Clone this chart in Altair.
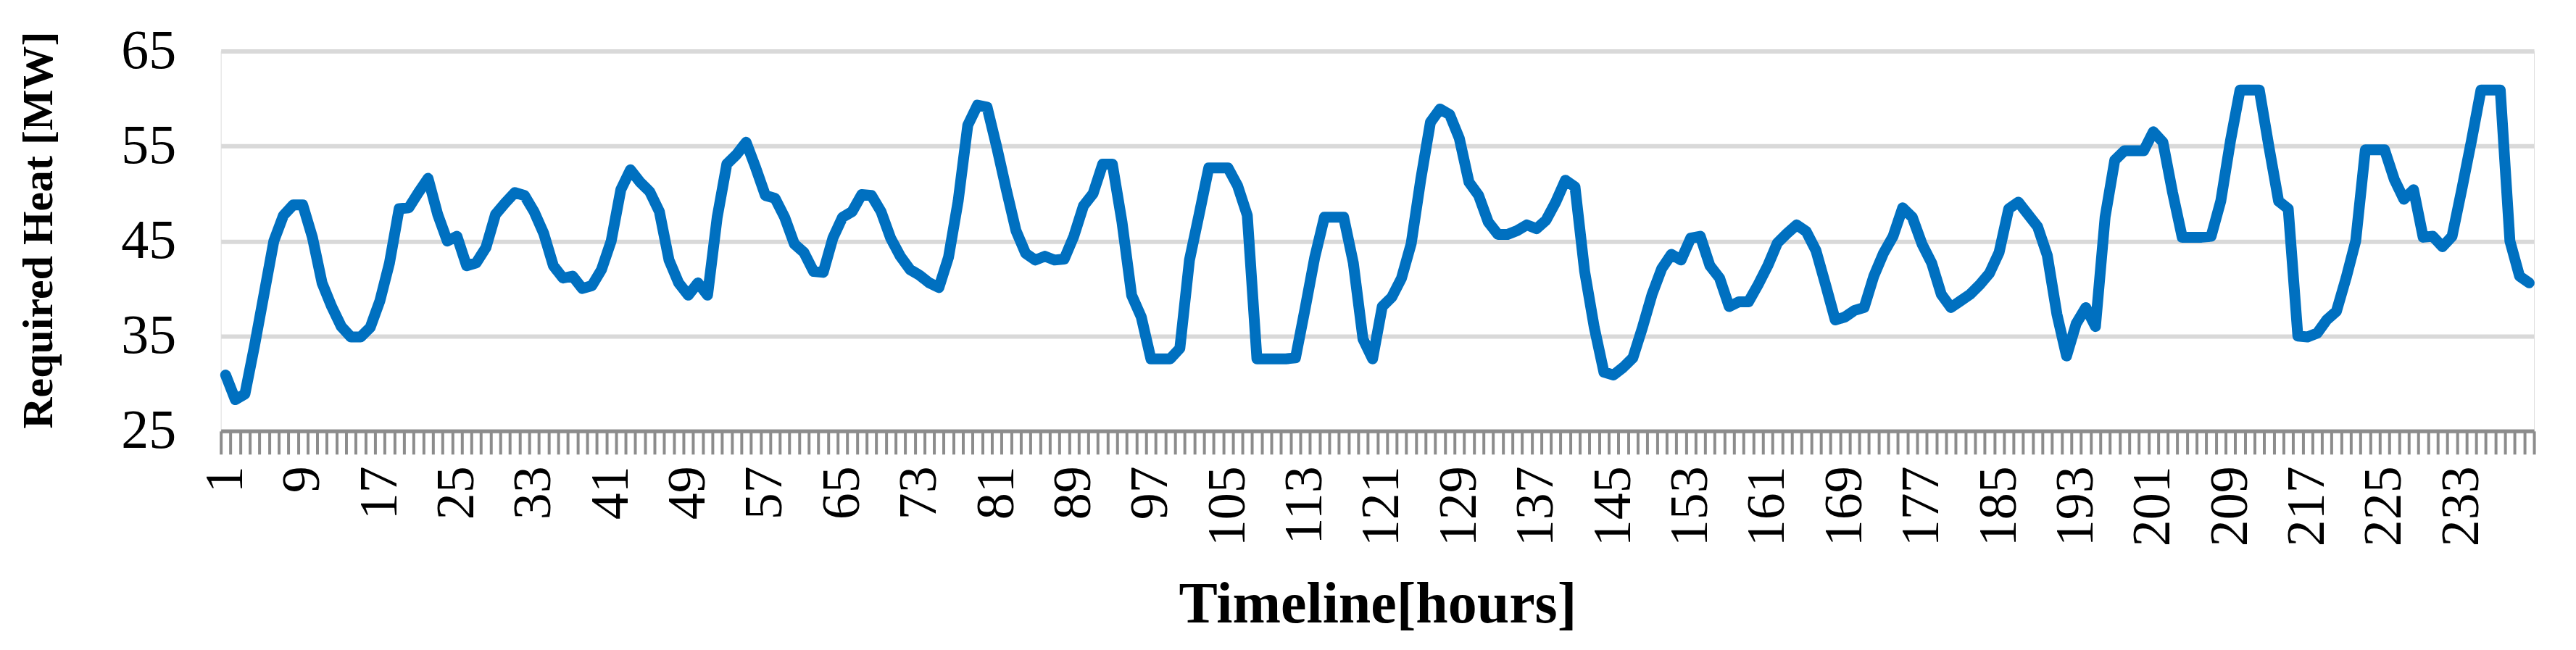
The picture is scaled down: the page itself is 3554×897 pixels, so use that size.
import altair as alt
import pandas as pd

# Hourly required heat [MW], one list per 24 hours
day1 = [30.9, 28.3, 28.9, 34.0, 39.5, 45.0, 47.7, 48.8, 48.8, 45.4, 40.6, 38.1,
        36.0, 34.9, 34.9, 35.9, 38.7, 42.7, 48.4, 48.5, 50.1, 51.6, 47.8, 45.0]
day2 = [45.5, 42.4, 42.7, 44.3, 47.8, 49.0, 50.1, 49.8, 48.1, 45.8, 42.4, 41.1,
        41.3, 40.0, 40.3, 42.0, 45.0, 50.4, 52.5, 51.2, 50.2, 48.1, 43.0, 40.6]
day3 = [39.3, 40.6, 39.3, 47.5, 53.1, 54.1, 55.4, 52.7, 49.8, 49.5, 47.5, 44.7,
        43.8, 41.8, 41.7, 45.3, 47.5, 48.1, 49.9, 49.8, 48.1, 45.3, 43.4, 42.0]
day4 = [41.4, 40.6, 40.1, 43.3, 49.2, 57.2, 59.3, 59.1, 54.9, 50.4, 46.1, 43.7,
        43.0, 43.4, 43.0, 43.1, 45.5, 48.7, 50.0, 53.1, 53.1, 47.0, 39.3, 37.0]
day5 = [32.6, 32.6, 32.6, 33.7, 43.0, 47.8, 52.7, 52.7, 52.7, 50.8, 47.7, 32.6,
        32.6, 32.6, 32.6, 32.7, 37.9, 43.3, 47.5, 47.5, 47.5, 42.7, 34.7, 32.6]
day6 = [38.1, 39.1, 41.1, 44.7, 51.5, 57.5, 58.9, 58.3, 55.8, 51.2, 49.8, 47.0,
        45.7, 45.7, 46.1, 46.7, 46.3, 47.2, 49.1, 51.4, 50.7, 41.8, 35.9, 31.2]
day7 = [30.9, 31.7, 32.7, 35.9, 39.4, 42.1, 43.6, 43.0, 45.3, 45.5, 42.4, 41.1,
        38.1, 38.6, 38.6, 40.4, 42.4, 44.8, 45.8, 46.7, 46.0, 44.0, 40.4, 36.7]
day8 = [37.0, 37.7, 38.0, 41.3, 43.7, 45.5, 48.5, 47.5, 44.7, 42.7, 39.4, 38.0,
        38.7, 39.4, 40.4, 41.6, 43.8, 48.4, 49.1, 47.8, 46.5, 43.5, 37.3, 32.9]
day9 = [36.3, 38.0, 36.0, 47.5, 53.5, 54.5, 54.5, 54.5, 56.5, 55.4, 50.1, 45.4,
        45.4, 45.4, 45.5, 49.2, 55.5, 60.9, 60.9, 60.9, 54.9, 49.2, 48.4, 35.0]
day10 = [34.9, 35.3, 36.7, 37.6, 41.1, 45.0, 54.6, 54.6, 54.6, 51.5, 49.4, 50.4,
         45.4, 45.5, 44.4, 45.5, 50.4, 55.5, 60.9, 60.9, 60.9, 45.0, 41.3, 40.6]

y_ticks = [25, 35, 45, 55, 65]

heat = day1 + day2 + day3 + day4 + day5 + day6 + day7 + day8 + day9 + day10
hours = list(range(1, len(heat) + 1))
df = pd.DataFrame({"hour": hours, "heat": heat})

FONT = "Liberation Serif"

chart = alt.Chart(df).mark_line(
    color="#0070c0", strokeWidth=15, strokeJoin="round", strokeCap="round"
).encode(
    x=alt.X(
        "hour:O",
        bandPosition=0.5,
        scale=alt.Scale(type="band", paddingInner=0, paddingOuter=0),
        axis=alt.Axis(
            title="Timeline[hours]",
            labelExpr="(datum.value - 1) % 8 == 0 ? datum.label : ''",
            labelAngle=270,
            labelOverlap=False,
            tickBand="extent",
            ticks=True,
            tickSize=32,
            tickWidth=4,
            tickColor="#8c8c8c",
            domainColor="#8c8c8c",
            domainWidth=5,
            grid=False,
            labelFont=FONT,
            labelFontSize=74,
            labelColor="black",
            labelPadding=16,
            titleFont=FONT,
            titleFontWeight="bold",
            titleFontSize=80,
            titleColor="black",
            titleY=240,
            titleBaseline="middle",
        ),
    ),
    y=alt.Y(
        "heat:Q",
        scale=alt.Scale(domain=[25, 65], nice=False, zero=False),
        axis=alt.Axis(
            values=y_ticks,
            title="Required Heat [MW]",
            grid=True,
            gridColor="#d9d9d9",
            gridWidth=6,
            domain=False,
            ticks=False,
            labelFont=FONT,
            labelFontSize=76,
            labelColor="black",
            labelPadding=62,
            titleFont=FONT,
            titleFontWeight="bold",
            titleFontSize=60,
            titleColor="black",
            titleX=-251,
            titleY=247,
            titleBaseline="middle",
        ),
    ),
).properties(
    width=3195,
    height=525,
    padding={"left": 297, "top": 62, "right": 50, "bottom": 300},
    autosize=alt.AutoSizeParams(type="none"),
).configure_view(stroke=None).configure(background="white")

chart.save("out.html", embed_options={"renderer": "svg", "actions": False})
